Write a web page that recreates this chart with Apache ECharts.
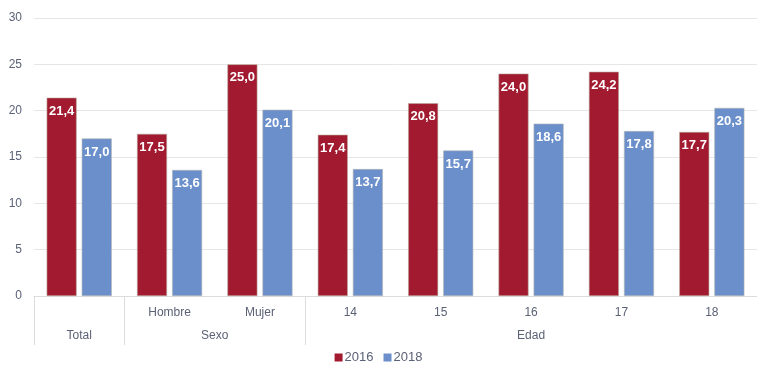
<!DOCTYPE html>
<html>
<head>
<meta charset="utf-8">
<script src="https://cdn.jsdelivr.net/npm/echarts@6/dist/echarts.min.js"></script>
<style>
  html, body { margin: 0; padding: 0; background: #fff; }
  #chart { width: 757px; height: 365px; }
</style>
</head>
<body>
<div id="chart"></div>
<script>
// Categories along the bottom axis (first row) and their group headings (second row)
const categories = ['Total', 'Hombre', 'Mujer', '14', '15', '16', '17', '18'];
const rowLabels = ['', 'Hombre', 'Mujer', '14', '15', '16', '17', '18'];
const groupNames = ['Total', 'Sexo', 'Edad'];
const groupCenters = [0.5, 2, 5.5];   // in category units
const groupEdges = [0, 1, 3];         // separator positions in category units

const seriesNames = ['2016', '2018'];
const values2016 = [21.4, 17.5, 25.0, 17.4, 20.8, 24.0, 24.2, 17.7];
const values2018 = [17.0, 13.6, 20.1, 13.7, 15.7, 18.6, 17.8, 20.3];

const yTicks = [0, 5, 10, 15, 20, 25, 30];

const RED = '#a11a2f';
const BLUE = '#6a8fcb';
const TEXT = '#5b6276';
const LINE = '#dcdcdc';
const FONT = '"Liberation Sans", Arial, sans-serif';

const fmt = v => v.toFixed(1).replace('.', ',');

const chart = echarts.init(document.getElementById('chart'), null, { renderer: 'canvas' });

const barLabel = {
  show: true,
  position: 'insideTop',
  distance: 7,
  color: '#fff',
  fontWeight: 'bold',
  fontSize: 13,
  fontFamily: FONT,
  formatter: p => fmt(p.value)
};

chart.setOption({
  animation: false,
  textStyle: { fontFamily: FONT },
  grid: { left: 34, top: 18, width: 729, bottom: 69, containLabel: false },
  legend: {
    bottom: -4,
    left: 'center',
    itemWidth: 8,
    itemHeight: 8,
    itemGap: 10,
    icon: 'rect',
    itemStyle: { borderWidth: 0 },
    textStyle: { color: TEXT, fontSize: 13, padding: [0, 0, 0, -3] },
    data: seriesNames
  },
  xAxis: [
    {
      type: 'category',
      data: categories,
      axisLine: { show: true, lineStyle: { color: LINE, width: 1 } },
      axisTick: { show: false },
      axisLabel: {
        color: TEXT, fontSize: 12, margin: 11,
        formatter: (v, i) => rowLabels[i]
      },
      splitLine: { show: false }
    },
    {
      type: 'value',
      min: 0,
      max: categories.length,
      position: 'bottom',
      axisLine: { show: false },
      splitLine: { show: false },
      axisTick: {
        show: true,
        length: 49,
        customValues: groupEdges,
        lineStyle: { color: LINE, width: 1 }
      },
      axisLabel: {
        show: true,
        color: TEXT, fontSize: 12, margin: 34,
        customValues: groupCenters,
        formatter: v => {
          const i = groupCenters.indexOf(v);
          return i >= 0 ? groupNames[i] : '';
        }
      }
    }
  ],
  yAxis: {
    type: 'value',
    min: yTicks[0],
    max: yTicks[yTicks.length - 1],
    interval: 5,
    axisLine: { show: false },
    axisTick: { show: false },
    axisLabel: { color: TEXT, fontSize: 12, margin: 12 },
    splitLine: { lineStyle: { color: '#e6e6e6', width: 1 } }
  },
  series: [
    {
      name: seriesNames[0],
      type: 'bar',
      xAxisIndex: 0,
      data: values2016,
      barWidth: 30,
      barGap: '17%',
      itemStyle: { color: RED, borderColor: '#b9a79a', borderWidth: 0.6 },
      label: barLabel
    },
    {
      name: seriesNames[1],
      type: 'bar',
      xAxisIndex: 0,
      data: values2018,
      barWidth: 30,
      barGap: '17%',
      itemStyle: { color: BLUE, borderColor: '#b4b4b4', borderWidth: 0.6 },
      label: barLabel
    }
  ]
});
</script>
</body>
</html>
